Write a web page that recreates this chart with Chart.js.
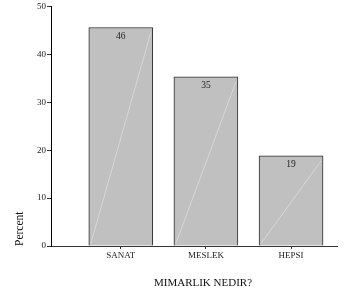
<!DOCTYPE html>
<html>
<head>
<meta charset="utf-8">
<script src="https://cdn.jsdelivr.net/npm/chart.js@4/dist/chart.umd.min.js"></script>
<style>
  html, body { margin: 0; padding: 0; background: #fff; }
  #wrap { width: 355px; height: 300px; position: relative; }
</style>
</head>
<body>
<div id="wrap"><canvas id="chart"></canvas></div>
<script>
const categories = ['SANAT', 'MESLEK', 'HEPSI'];
const percentValues = [45.6, 35.3, 18.8];
const yTicks = [0, 10, 20, 30, 40, 50];
const xTitle = 'MIMARLIK NEDIR?';

const serif = 'Liberation Serif, Times New Roman, serif';

// value labels, the faint diagonal streak inside every bar, and the x title
const barDecor = {
  id: 'barDecor',
  afterDatasetsDraw(chart) {
    const ctx = chart.ctx;
    const meta = chart.getDatasetMeta(0);
    ctx.save();
    meta.data.forEach((bar, i) => {
      const half = bar.width / 2;
      ctx.strokeStyle = 'rgba(255,255,255,0.35)';
      ctx.lineWidth = 1;
      ctx.beginPath();
      ctx.moveTo(bar.x - half + 2, bar.base - 2);
      ctx.lineTo(bar.x + half - 2, bar.y + 5);
      ctx.stroke();

      ctx.fillStyle = '#222';
      ctx.font = '9.5px ' + serif;
      ctx.textAlign = 'center';
      ctx.textBaseline = 'middle';
      ctx.fillText(Math.round(percentValues[i]), bar.x, bar.y + 9);
    });

    // title centred between the y axis and the right edge, like the original
    const area = chart.chartArea;
    ctx.fillStyle = '#111';
    ctx.font = '11px ' + serif;
    ctx.textAlign = 'center';
    ctx.textBaseline = 'middle';
    ctx.fillText(xTitle, (area.left + chart.width) / 2, area.bottom + 37);
    ctx.restore();
  }
};

new Chart(document.getElementById('chart'), {
  type: 'bar',
  data: {
    datasets: [{
      data: categories.map((c, i) => ({ x: i, y: percentValues[i] })),
      backgroundColor: '#c0c0c0',
      borderColor: '#2a2a2a',
      borderWidth: 1,
      barThickness: 64
    }]
  },
  options: {
    responsive: true,
    maintainAspectRatio: false,
    animation: false,
    layout: { padding: { top: 6, right: 18, left: 0, bottom: 0 } },
    plugins: {
      legend: { display: false },
      tooltip: { enabled: false }
    },
    scales: {
      x: {
        type: 'linear',
        min: -0.82,
        max: 2.54,
        offset: false,
        afterBuildTicks: (scale) => {
          scale.ticks = categories.map((c, i) => ({ value: i }));
        },
        afterFit: (scale) => { scale.height = 54; },
        border: { display: true, color: '#333', width: 1 },
        grid: {
          offset: false,
          drawOnChartArea: false,
          drawTicks: true,
          tickLength: 3,
          color: '#333'
        },
        ticks: {
          autoSkip: false,
          maxRotation: 0,
          padding: 1,
          color: '#222',
          font: { family: serif, size: 9 },
          callback: (v) => categories[v]
        }
      },
      y: {
        min: 0,
        max: 50,
        afterBuildTicks: (scale) => {
          scale.ticks = yTicks.map(v => ({ value: v }));
        },
        afterFit: (scale) => { scale.width = 51; },
        border: { display: true, color: '#000', width: 1 },
        grid: {
          drawOnChartArea: false,
          drawTicks: true,
          tickLength: 4,
          color: '#333'
        },
        ticks: {
          padding: 1,
          color: '#222',
          font: { family: serif, size: 9 }
        },
        title: {
          display: true,
          text: 'Percent',
          align: 'start',
          color: '#111',
          font: { family: serif, size: 11.5 },
          padding: { top: 13, bottom: 0 }
        }
      }
    }
  },
  plugins: [barDecor]
});
</script>
</body>
</html>
